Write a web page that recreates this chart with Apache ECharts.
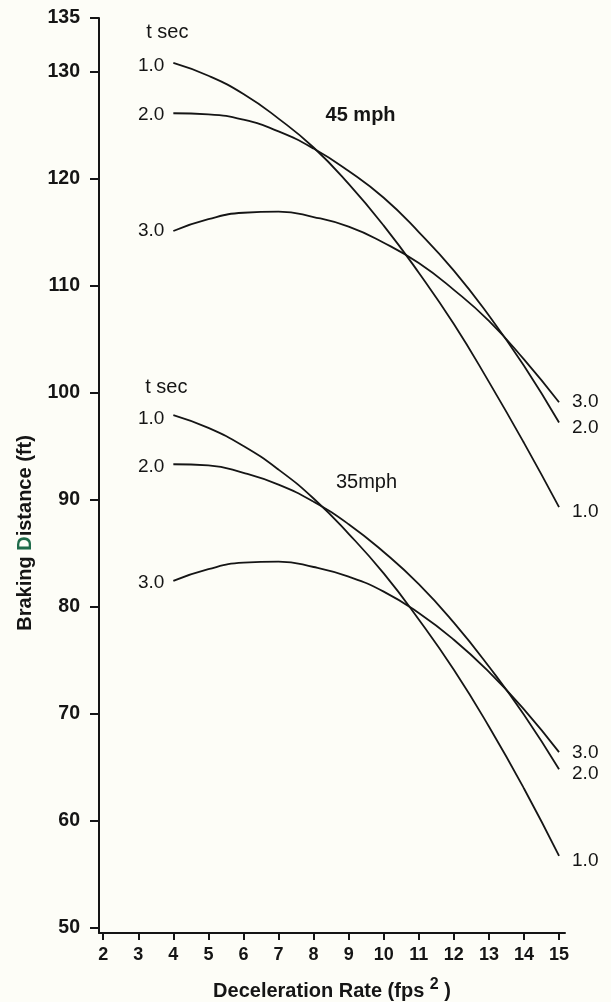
<!DOCTYPE html>
<html>
<head>
<meta charset="utf-8">
<script src="https://cdn.jsdelivr.net/npm/echarts@6/dist/echarts.min.js"></script>
<style>
  html, body { margin: 0; padding: 0; background: #fdfdf7; }
  #chart { width: 611px; height: 1002px; }
</style>
</head>
<body>
<div id="chart"></div>
<script>
// ---- data ----
const decelRates = [4, 5, 6, 7, 8, 9, 10, 11, 12, 13, 14, 15];
const xTicks = [2, 3, 4, 5, 6, 7, 8, 9, 10, 11, 12, 13, 14, 15];
const yTicks = [50, 60, 70, 80, 90, 100, 110, 120, 130, 135];

// 45 mph
const mph45_t1 = [130.8, 129.6, 127.9, 125.6, 122.9, 119.5, 115.6, 111.2, 106.4, 101.0, 95.3, 89.3];
const mph45_t2 = [126.1, 126.0, 125.5, 124.4, 122.8, 120.7, 118.2, 115.0, 111.4, 107.2, 102.5, 97.2];
const mph45_t3 = [115.1, 116.2, 116.8, 116.9, 116.4, 115.5, 114.0, 112.1, 109.6, 106.7, 103.1, 99.1];
// 35 mph
const mph35_t1 = [97.9, 96.7, 95.0, 92.8, 90.1, 86.8, 83.1, 78.8, 74.1, 68.8, 63.0, 56.7];
const mph35_t2 = [93.3, 93.2, 92.5, 91.4, 89.8, 87.7, 85.1, 82.1, 78.5, 74.4, 69.9, 64.8];
const mph35_t3 = [82.4, 83.5, 84.1, 84.2, 83.7, 82.8, 81.4, 79.4, 76.9, 73.9, 70.4, 66.4];

const curveLabels = ['1.0', '2.0', '3.0'];
// annotations: [x, y, text]
const annotations = [
  [3.83, 133.6, 't sec'],
  [3.80, 100.5, 't sec'],
  [9.34, 125.9, '45 mph'],
  [9.51, 91.6, '35mph']
];

// ---- chart ----
const FONT = 'Liberation Sans, Arial, sans-serif';
const INK = '#151515';

function curve(name, ys, lbl, startOff, endOff) {
  const data = ys.map((y, i) => ({ value: [decelRates[i], y] }));
  data[0].label = {
    show: true, position: 'left', distance: 9, formatter: lbl,
    offset: [0, startOff], fontSize: 19, color: INK, fontFamily: FONT
  };
  data[data.length - 1].label = {
    show: true, position: 'right', distance: 13, formatter: lbl,
    offset: [0, endOff], fontSize: 19, color: INK, fontFamily: FONT
  };
  return {
    name, type: 'line', smooth: 0.5, data,
    symbol: 'circle', symbolSize: 0, showSymbol: true,
    lineStyle: { color: INK, width: 1.8 },
    itemStyle: { color: INK },
    emphasis: { disabled: true }, silent: true, z: 3
  };
}

const annStyles = [
  { fontSize: 20, fontWeight: 'normal' },
  { fontSize: 20, fontWeight: 'normal' },
  { fontSize: 20, fontWeight: 'bold' },
  { fontSize: 20, fontWeight: 'normal' }
];

const chart = echarts.init(document.getElementById('chart'), null, { renderer: 'canvas' });
chart.setOption({
  backgroundColor: '#fdfdf7',
  animation: false,
  grid: { left: 99, top: 18, width: 466, height: 915 },
  xAxis: {
    type: 'value', min: 1.88, max: 15.17,
    axisLine: { show: true, lineStyle: { color: INK, width: 2 } },
    axisTick: { show: true, length: 7, lineStyle: { color: INK, width: 2 }, customValues: xTicks },
    axisLabel: { customValues: xTicks, margin: 13, fontSize: 18, fontWeight: 'bold', color: INK, fontFamily: FONT },
    splitLine: { show: false }
  },
  yAxis: {
    type: 'value', min: 49.5, max: 135,
    axisLine: { show: true, lineStyle: { color: INK, width: 2 } },
    axisTick: { show: true, length: 9, lineStyle: { color: INK, width: 2 }, customValues: yTicks },
    axisLabel: { customValues: yTicks, margin: 19, fontSize: 19.5, fontWeight: 'bold', color: INK, fontFamily: FONT },
    splitLine: { show: false }
  },
  graphic: [
    {
      type: 'text', x: 25, y: 533, rotation: Math.PI / 2,
      style: {
        text: '{a|Braking }{g|D}{a|istance (ft)}',
        align: 'center', verticalAlign: 'middle',
        rich: {
          a: { fontSize: 20, fontWeight: 'bold', fill: INK, fontFamily: FONT },
          g: { fontSize: 20, fontWeight: 'bold', fill: '#1f6b4a', fontFamily: FONT }
        }
      }
    },
    {
      type: 'text', x: 332, y: 991,
      style: {
        text: '{a|Deceleration Rate (fps }{s|2}{a| )}',
        align: 'center', verticalAlign: 'middle',
        rich: {
          a: { fontSize: 20, fontWeight: 'bold', fill: INK, fontFamily: FONT, lineHeight: 30 },
          s: { fontSize: 16, fontWeight: 'bold', fill: INK, fontFamily: FONT, padding: [0, 0, 13, 0] }
        }
      }
    }
  ],
  series: [
    curve('45 mph t=1.0', mph45_t1, curveLabels[0], 3, 5),
    curve('45 mph t=2.0', mph45_t2, curveLabels[1], 2, 5),
    curve('45 mph t=3.0', mph45_t3, curveLabels[2], 0, 0),
    curve('35 mph t=1.0', mph35_t1, curveLabels[0], 4, 5),
    curve('35 mph t=2.0', mph35_t2, curveLabels[1], 3, 5),
    curve('35 mph t=3.0', mph35_t3, curveLabels[2], 2, 1),
    {
      name: 'annotations', type: 'scatter', symbolSize: 0, silent: true,
      itemStyle: { color: INK, opacity: 1 },
      data: annotations.map((a, i) => ({
        value: [a[0], a[1]],
        label: {
          show: true, position: 'inside', formatter: a[2],
          color: INK, opacity: 1, fontFamily: FONT,
          fontSize: annStyles[i].fontSize, fontWeight: annStyles[i].fontWeight
        }
      }))
    }
  ]
});
</script>
</body>
</html>
